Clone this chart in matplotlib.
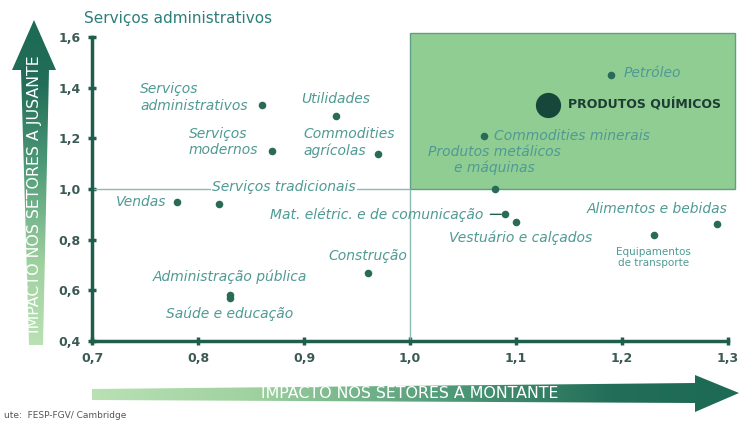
import matplotlib.pyplot as plt
import numpy as np
from matplotlib.patches import Polygon, Rectangle
from matplotlib.colors import LinearSegmentedColormap

# Dados (impacto a montante x impacto a jusante)
setores = ["Serviços\nadministrativos", "Utilidades", "Serviços\nmodernos",
           "Commodities\nagrícolas", "Vendas", "Serviços tradicionais",
           "Mat. elétric. e de comunicação", "Vestuário e calçados",
           "Alimentos e bebidas", "Equipamentos\nde transporte", "Construção",
           "Administração pública", "Saúde e educação", "Petróleo",
           "PRODUTOS QUÍMICOS", "Commodities minerais",
           "Produtos metálicos\ne máquinas"]
montante = [0.86, 0.93, 0.87, 0.97, 0.78, 0.82, 1.09, 1.10, 1.29, 1.23, 0.96,
            0.83, 0.83, 1.19, 1.13, 1.07, 1.08]
jusante = [1.33, 1.29, 1.15, 1.14, 0.95, 0.94, 0.90, 0.87, 0.86, 0.82, 0.67,
           0.58, 0.57, 1.45, 1.33, 1.21, 1.00]
destaque = "PRODUTOS QUÍMICOS"

x_ticks = [0.7, 0.8, 0.9, 1.0, 1.1, 1.2, 1.3]
y_ticks = [0.4, 0.6, 0.8, 1.0, 1.2, 1.4, 1.6]
ref = 1.0

# posicao dos rotulos: (dx, dy em pixels, ha, va)
rotulos = {
    "Serviços\nadministrativos": (-14, 8, "right", "center"),
    "Utilidades": (0, 17, "center", "center"),
    "Serviços\nmodernos": (-14, 9, "right", "center"),
    "Commodities\nagrícolas": (-75, 11, "left", "center"),
    "Vendas": (-10, 0, "right", "center"),
    "Serviços tradicionais": (-7, 17, "left", "center"),
    "Mat. elétric. e de comunicação": (-22, 0, "right", "center"),
    "Vestuário e calçados": (5, -16, "center", "center"),
    "Alimentos e bebidas": (10, 15, "right", "center"),
    "Equipamentos\nde transporte": (0, -23, "center", "center"),
    "Construção": (0, 17, "center", "center"),
    "Administração pública": (0, 19, "center", "center"),
    "Saúde e educação": (0, -16, "center", "center"),
    "Petróleo": (12, 2, "left", "center"),
    "PRODUTOS QUÍMICOS": (20, 0, "left", "center"),
    "Commodities minerais": (10, 0, "left", "center"),
    "Produtos metálicos\ne máquinas": (0, 29, "center", "center"),
}

verde_escuro = "#1f5e4c"
teal = "#4f9a94"

fig = plt.figure(figsize=(7.4, 4.23), dpi=100)

# ---- camada de fundo: setas em degradê ----
bg = fig.add_axes([0, 0, 1, 1], zorder=0)
bg.set_xlim(0, 740)
bg.set_ylim(423, 0)
bg.axis("off")

cmap = LinearSegmentedColormap.from_list(
    "seta", [(0, "#b9e1b4"), (0.25, "#9fd19f"), (0.55, "#4f9a78"),
             (0.8, "#226e58"), (1, "#1d6a55")])

# seta vertical
seta_v = Polygon([(29, 345), (43, 345), (49, 70), (56, 70), (34, 20),
                  (12, 70), (21, 70)], closed=True, facecolor="none", edgecolor="none")
bg.add_patch(seta_v)
grad_v = np.linspace(0, 1, 256).reshape(-1, 1)
im = bg.imshow(grad_v, cmap=cmap, extent=[10, 58, 345, 20], aspect="auto",
               origin="lower")
im.set_clip_path(seta_v)
bg.text(35, 194, "IMPACTO NOS SETORES A JUSANTE", rotation=90, color="white",
        fontsize=11.4, ha="center", va="center")

# seta horizontal
seta_h = Polygon([(92, 389), (92, 400), (695, 403), (695, 412), (739, 393),
                  (695, 375), (695, 383)], closed=True, facecolor="none", edgecolor="none")
bg.add_patch(seta_h)
grad_h = np.linspace(0, 1, 256).reshape(1, -1)
im2 = bg.imshow(grad_h, cmap=cmap, extent=[92, 740, 413, 374], aspect="auto")
im2.set_clip_path(seta_h)
bg.text(410, 394, "IMPACTO NOS SETORES A MONTANTE", color="white",
        fontsize=11.4, ha="center", va="center")

bg.text(84, 18, "Serviços administrativos", color="#2c7f7a", fontsize=11,
        ha="left", va="center")
bg.text(4, 416, "ute:  FESP-FGV/ Cambridge", color="#555555", fontsize=6.5,
        ha="left", va="center")

# ---- grafico principal ----
ax = fig.add_axes([92 / 740, 1 - 341 / 423, (728 - 92) / 740, (341 - 37) / 423], zorder=1)
ax.patch.set_alpha(0)
ax.set_xlim(x_ticks[0], x_ticks[-1])
ax.set_ylim(y_ticks[0], y_ticks[-1])

ax.add_patch(Rectangle((ref, ref), 0.307, 0.615, facecolor="#90cd93",
                       edgecolor="#5f9f86", linewidth=1, clip_on=False, zorder=1))
ax.hlines(ref, x_ticks[0], ref, color="#8cbab3", linewidth=1, zorder=2)
ax.vlines(ref, y_ticks[0], ref, color="#8cbab3", linewidth=1, zorder=2)

for nome, x, y in zip(setores, montante, jusante):
    grande = nome == destaque
    ax.scatter(x, y, s=330 if grande else 30, color="#16473a" if grande else "#2a6b58",
               zorder=4, linewidths=0)
    dx, dy, ha, va = rotulos[nome]
    kw = dict(color=teal, fontsize=10, style="italic")
    if grande:
        kw = dict(color="#1c3d33", fontsize=9, fontweight="bold")
    elif nome.startswith("Equipamentos"):
        kw = dict(color=teal, fontsize=7.5)
    elif nome == "Serviços tradicionais":
        kw["bbox"] = dict(facecolor="white", edgecolor="none", pad=1)
    if nome.startswith("Mat."):
        ax.annotate(nome, (x, y), xytext=(dx, dy), textcoords="offset pixels",
                    ha=ha, va=va, zorder=3,
                    arrowprops=dict(arrowstyle="-", color=verde_escuro, lw=1,
                                    shrinkA=3, shrinkB=3), **kw)
    else:
        ax.annotate(nome, (x, y), xytext=(dx, dy), textcoords="offset pixels",
                    ha=ha, va=va, multialignment="left" if ha != "center" else "center",
                    zorder=3, **kw)

ax.set_xticks(x_ticks)
ax.set_yticks(y_ticks)
ax.set_xticklabels([f"{v:.1f}".replace(".", ",") for v in x_ticks])
ax.set_yticklabels([f"{v:.1f}".replace(".", ",") for v in y_ticks])
ax.tick_params(direction="inout", length=6, width=2.5, color=verde_escuro,
               labelcolor="#3b5a55", labelsize=9, pad=5)
for lab in ax.get_xticklabels() + ax.get_yticklabels():
    lab.set_fontweight("bold")
for s in ["top", "right"]:
    ax.spines[s].set_visible(False)
for s in ["left", "bottom"]:
    ax.spines[s].set_color(verde_escuro)
    ax.spines[s].set_linewidth(2.5)

fig.savefig("out.png", dpi=100)
